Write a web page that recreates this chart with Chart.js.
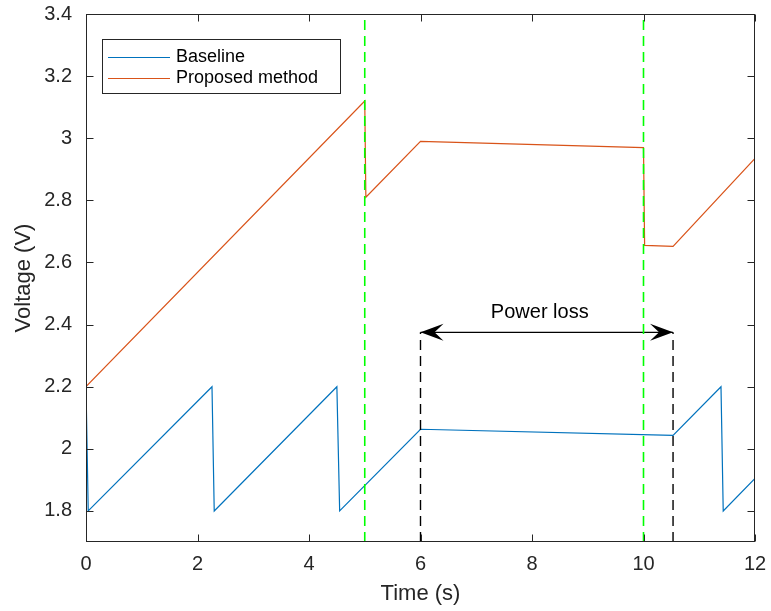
<!DOCTYPE html>
<html>
<head>
<meta charset="utf-8">
<script src="https://cdn.jsdelivr.net/npm/chart.js@4/dist/chart.umd.min.js"></script>
<style>
html,body{margin:0;padding:0;background:#fff;}
#wrap{width:771px;height:611px;}
</style>
</head>
<body>
<div id="wrap"><canvas id="c" width="771" height="611"></canvas></div>
<script>
// ---- data ----
const baselineTime = [0, 0.04, 2.26, 2.3, 4.5, 4.55, 6, 10.53, 11.39, 11.43, 12];
const baselineVolt = [2.2, 1.8, 2.2, 1.8, 2.2, 1.8, 2.063, 2.043, 2.2, 1.8, 1.905];
const proposedTime = [0, 5, 5.02, 6, 10, 10.02, 10.53, 12];
const proposedVolt = [2.2, 3.12, 2.81, 2.99, 2.97, 2.655, 2.652, 2.935];
const eventTimes = [5, 10];            // green dashed markers
const lossStart = 6, lossEnd = 10.53;  // power loss interval
const lossLevel = 2.375;               // arrow level (V)
const lossLabel = "Power loss";
const lossLabelLevel = 2.44;
const xTicks = [0, 2, 4, 6, 8, 10, 12];
const yTicks = [1.8, 2.0, 2.2, 2.4, 2.6, 2.8, 3.0, 3.2, 3.4];
const xRange = [0, 12];
const yRange = [1.7, 3.4];
const seriesNames = ["Baseline", "Proposed method"];
const seriesColors = ["#0072BD", "#D95319"];

const pts = (xs, ys) => xs.map((x, i) => ({x: x, y: ys[i]}));
const AXIS = "#262626";
const FONT = "'Liberation Sans', Arial, Helvetica, sans-serif";

const datasets = [
  {label: seriesNames[0], data: pts(baselineTime, baselineVolt), borderColor: seriesColors[0], borderWidth: 1.2, order: 3},
  {label: seriesNames[1], data: pts(proposedTime, proposedVolt), borderColor: seriesColors[1], borderWidth: 1.2, order: 3}
];
eventTimes.forEach(t => datasets.push({
  label: "_event", data: [{x: t, y: yRange[0]}, {x: t, y: yRange[1]}],
  borderColor: "#00FF00", borderWidth: 1.6, borderDash: [10, 6], order: 1
}));
[lossStart, lossEnd].forEach(t => datasets.push({
  label: "_loss", data: [{x: t, y: yRange[0]}, {x: t, y: lossLevel}],
  borderColor: "#000000", borderWidth: 1.4, borderDash: [10, 6], order: 2
}));
datasets.push({
  label: "_arrow", data: [{x: lossStart, y: lossLevel}, {x: lossEnd, y: lossLevel}],
  borderColor: "#000000", borderWidth: 1.2, order: 2
});
datasets.forEach(d => { d.pointRadius = 0; d.tension = 0; d.fill = false; });

const fmt = v => String(Number(v.toFixed(1)));

const decor = {
  id: "decor",
  afterDatasetsDraw(chart) {
    const ctx = chart.ctx;
    const a = chart.chartArea;
    const xs = chart.scales.x, ys = chart.scales.y;
    ctx.save();
    // arrow heads
    const ay = ys.getPixelForValue(lossLevel);
    const head = (tipX, dir) => {
      ctx.beginPath();
      ctx.moveTo(tipX, ay);
      ctx.lineTo(tipX + dir * 23, ay - 8.5);
      ctx.lineTo(tipX + dir * 14, ay);
      ctx.lineTo(tipX + dir * 23, ay + 8.5);
      ctx.closePath();
      ctx.fillStyle = "#000";
      ctx.fill();
    };
    head(xs.getPixelForValue(lossStart), 1);
    head(xs.getPixelForValue(lossEnd), -1);
    // label
    ctx.fillStyle = "#000";
    ctx.font = "20px " + FONT;
    ctx.textAlign = "center";
    ctx.textBaseline = "middle";
    ctx.fillText(lossLabel, xs.getPixelForValue((lossStart + lossEnd) / 2) - 7, ys.getPixelForValue(lossLabelLevel));
    // box
    ctx.strokeStyle = AXIS;
    ctx.lineWidth = 1;
    const L = Math.round(a.left) + 0.5, R = Math.round(a.right) - 0.5;
    const T = Math.round(a.top) + 0.5, B = Math.round(a.bottom) - 0.5;
    ctx.strokeRect(L, T, R - L, B - T);
    // inward ticks
    const tl = 7;
    ctx.beginPath();
    xTicks.forEach(v => {
      const px = Math.round(xs.getPixelForValue(v)) + 0.5;
      ctx.moveTo(px, B); ctx.lineTo(px, B - tl);
      ctx.moveTo(px, T); ctx.lineTo(px, T + tl);
    });
    yTicks.forEach(v => {
      const py = Math.round(ys.getPixelForValue(v)) + 0.5;
      ctx.moveTo(L, py); ctx.lineTo(L + tl, py);
      ctx.moveTo(R, py); ctx.lineTo(R - tl, py);
    });
    ctx.stroke();
    // legend
    const lx = 102.5, ly = 39.5, lw = 238, lh = 54;
    ctx.fillStyle = "#fff";
    ctx.fillRect(lx, ly, lw, lh);
    ctx.strokeStyle = AXIS;
    ctx.strokeRect(lx, ly, lw, lh);
    ctx.font = "18px " + FONT;
    ctx.textAlign = "left";
    ctx.textBaseline = "middle";
    const rows = [57, 78];
    seriesNames.forEach((n, i) => {
      ctx.strokeStyle = seriesColors[i];
      ctx.beginPath();
      ctx.moveTo(108, rows[i] + 0.5); ctx.lineTo(170, rows[i] + 0.5);
      ctx.stroke();
      ctx.fillStyle = "#000";
      ctx.fillText(n, 176, rows[i]);
    });
    ctx.restore();
  }
};

new Chart(document.getElementById("c"), {
  type: "line",
  data: {datasets: datasets},
  options: {
    responsive: false,
    animation: false,
    devicePixelRatio: 1,
    layout: {padding: {top: 14, right: 16, left: 0, bottom: 0}},
    plugins: {legend: {display: false}, tooltip: {enabled: false}},
    scales: {
      x: {
        type: "linear", min: xRange[0], max: xRange[1],
        afterFit: s => { s.height = 69; s.paddingLeft = 0; s.paddingRight = 0; },
        afterBuildTicks: s => { s.ticks = xTicks.map(v => ({value: v})); },
        grid: {display: false, drawTicks: false},
        border: {display: false},
        ticks: {padding: 10, color: AXIS, font: {family: FONT, size: 20}, callback: v => fmt(v), maxRotation: 0, autoSkip: false},
        title: {display: true, text: "Time (s)", color: AXIS, font: {family: FONT, size: 22}, padding: {top: 0, bottom: 4}}
      },
      y: {
        type: "linear", min: yRange[0], max: yRange[1],
        afterFit: s => { s.width = 86; s.paddingTop = 0; s.paddingBottom = 0; },
        afterBuildTicks: s => { s.ticks = yTicks.map(v => ({value: v})); },
        grid: {display: false, drawTicks: false},
        border: {display: false},
        ticks: {padding: 14, color: AXIS, font: {family: FONT, size: 20}, callback: v => fmt(v), autoSkip: false},
        title: {display: true, text: "Voltage (V)", color: AXIS, font: {family: FONT, size: 22}, padding: {top: 11, bottom: 0}}
      }
    }
  },
  plugins: [decor]
});
</script>
</body>
</html>
